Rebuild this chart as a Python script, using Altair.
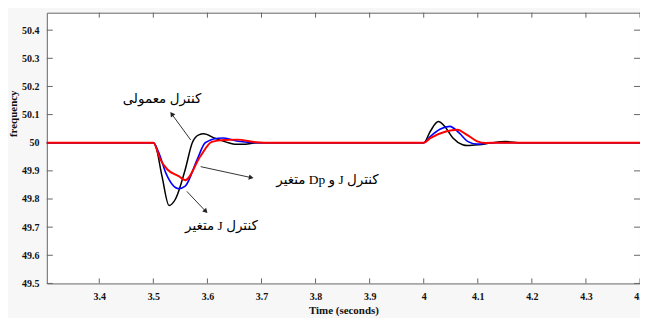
import math
import altair as alt
import pandas as pd

# ---- data ----
t_conv = [3.30, 3.50, 3.504, 3.516, 3.529, 3.541, 3.559, 3.572, 3.584, 3.593, 3.614, 3.639, 3.651, 3.67, 3.69, 3.72,
          4.0, 4.012, 4.027, 4.039, 4.054, 4.072, 4.081, 4.102, 4.127, 4.151, 4.181, 4.25, 4.45]
f_conv = [50.0, 50.0, 49.99, 49.881, 49.777, 49.80, 49.905, 50.0, 50.028, 50.032, 50.016, 50.0, 49.995, 49.995, 50.0, 50.0,
          50.0, 50.04, 50.075, 50.058, 50.017, 49.993, 49.99, 49.993, 50.0, 50.004, 50.0, 50.0, 50.0]

t_j = [3.30, 3.50, 3.51, 3.523, 3.547, 3.559, 3.581, 3.596, 3.62, 3.63, 3.657, 3.694, 3.73,
       4.0, 4.012, 4.03, 4.048, 4.066, 4.081, 4.099, 4.127, 4.16, 4.45]
f_j = [50.0, 50.0, 49.965, 49.893, 49.837, 49.846, 49.94, 50.0, 50.016, 50.017, 50.005, 50.0, 50.0,
       50.0, 50.022, 50.048, 50.058, 50.034, 50.005, 49.995, 50.0, 50.0, 50.0]

t_jdp = [3.30, 3.50, 3.513, 3.526, 3.547, 3.559, 3.587, 3.608, 3.63, 3.655, 3.69, 3.72,
         4.0, 4.012, 4.041, 4.062, 4.08, 4.099, 4.115, 4.14, 4.45]
f_jdp = [50.0, 50.0, 49.94, 49.905, 49.881, 49.867, 49.952, 50.003, 50.01, 50.011, 50.002, 50.0,
         50.0, 50.016, 50.04, 50.046, 50.028, 50.005, 49.999, 50.0, 50.0]

series_colors = ["#000000", "#0000ff", "#ff0000"]
series_widths = [1.5, 1.6, 2.0]

x_ticks = [3.4, 3.5, 3.6, 3.7, 3.8, 3.9, 4.0, 4.1, 4.2, 4.3, 4.4]
y_ticks = [49.5, 49.6, 49.7, 49.8, 49.9, 50.0, 50.1, 50.2, 50.3, 50.4]
x_domain = [3.303, 4.4]
y_domain = [49.5, 50.462]

labels = ["کنترل معمولی", "کنترل J و Dp متغیر", "کنترل J متغیر"]
label_x = [3.516, 3.822, 3.626]
label_y = [50.155, 49.869, 49.703]

arr_x1 = [3.569, 3.5875, 3.562]
arr_y1 = [50.01, 49.915, 49.827]
arr_x2 = [3.534, 3.681, 3.597]
arr_y2 = [50.102, 49.876, 49.756]

W, H = 596, 272

# right-to-left paragraph direction for the Persian labels (RLE ... PDF)
shown_labels = ["\u202b" + s + "\u202c" for s in labels]

# arrowhead rotation from direction in pixel space
pxx = W / (x_domain[1] - x_domain[0])
pxy = H / (y_domain[1] - y_domain[0])
arr_angle = []
for a, b, c, d in zip(arr_x1, arr_y1, arr_x2, arr_y2):
    dx = (c - a) * pxx
    dy = -(d - b) * pxy
    arr_angle.append(math.degrees(math.atan2(dx, -dy)) % 360)

xs = alt.Scale(domain=x_domain, nice=False, zero=False)
ys = alt.Scale(domain=y_domain, nice=False, zero=False)

serif = "Liberation Serif"

x_axis = alt.Axis(values=x_ticks, format="~g", labelFont=serif, labelFontWeight="bold", labelFontSize=10,
                  labelColor="#111", domain=False, ticks=False, grid=False, labelPadding=8,
                  title="Time (seconds)", titleFont=serif, titleFontWeight="bold", titleFontSize=11,
                  titleColor="#111", titlePadding=3, labelFlush=False)
y_axis = alt.Axis(values=y_ticks, format="~g", labelFont=serif, labelFontWeight="bold", labelFontSize=10,
                  labelColor="#111", domain=False, ticks=False, grid=False, labelPadding=8,
                  title="frequency", titleFont=serif, titleFontWeight="bold", titleFontSize=11,
                  titleColor="#111", titleAngle=270, titleX=-33, titleY=101,
                  titleAlign="center", titleBaseline="middle")


def X(field):
    return alt.X(field, scale=xs, axis=x_axis)


def Y(field):
    return alt.Y(field, scale=ys, axis=y_axis)


line_layers = []
for i, (tt, ff) in enumerate([(t_conv, f_conv), (t_j, f_j), (t_jdp, f_jdp)]):
    df = pd.DataFrame({"t": tt, "f": ff})
    line_layers.append(
        alt.Chart(df).mark_line(color=series_colors[i], strokeWidth=series_widths[i],
                                interpolate="monotone", clip=True)
        .encode(x=X("t:Q"), y=Y("f:Q"))
    )

xt = pd.DataFrame({"v": x_ticks})
yt = pd.DataFrame({"v": y_ticks})
tick_color = "#666"
ticks = [
    alt.Chart(xt).mark_rule(color=tick_color).encode(x=X("v:Q"), y=alt.value(H), y2=alt.value(H - 5)),
    alt.Chart(xt).mark_rule(color=tick_color).encode(x=X("v:Q"), y=alt.value(0), y2=alt.value(5)),
    alt.Chart(yt).mark_rule(color=tick_color).encode(y=Y("v:Q"), x=alt.value(0), x2=alt.value(6)),
    alt.Chart(yt).mark_rule(color=tick_color).encode(y=Y("v:Q"), x=alt.value(W), x2=alt.value(W - 6)),
]

ad = pd.DataFrame({"x1": arr_x1, "y1": arr_y1, "x2": arr_x2, "y2": arr_y2, "ang": arr_angle})
arrows = alt.Chart(ad).mark_rule(color="#333", strokeWidth=1).encode(
    x=X("x1:Q"), y=Y("y1:Q"), x2="x2:Q", y2="y2:Q")
heads = alt.Chart(ad).mark_point(shape="triangle-up", filled=True, color="#222", size=30, opacity=1).encode(
    x=X("x2:Q"), y=Y("y2:Q"), angle=alt.Angle("ang:Q", scale=None))

ld = pd.DataFrame({"x": label_x, "y": label_y, "txt": shown_labels})
texts = alt.Chart(ld).mark_text(font="Liberation Serif, DejaVu Sans", fontSize=13.5, color="#000").encode(
    x=X("x:Q"), y=Y("y:Q"), text="txt:N")

chart = alt.layer(*ticks, *line_layers, arrows, heads, texts).properties(
    width=W, height=H,
    autosize=alt.AutoSizeParams(type="none"),
    padding={"left": 39, "top": 4, "right": 0, "bottom": 34},
    background="#f7f7f7",
).configure_view(stroke="#666", strokeWidth=1, fill="#ffffff")

chart.save("out.html", embed_options={"renderer": "svg", "actions": False})
